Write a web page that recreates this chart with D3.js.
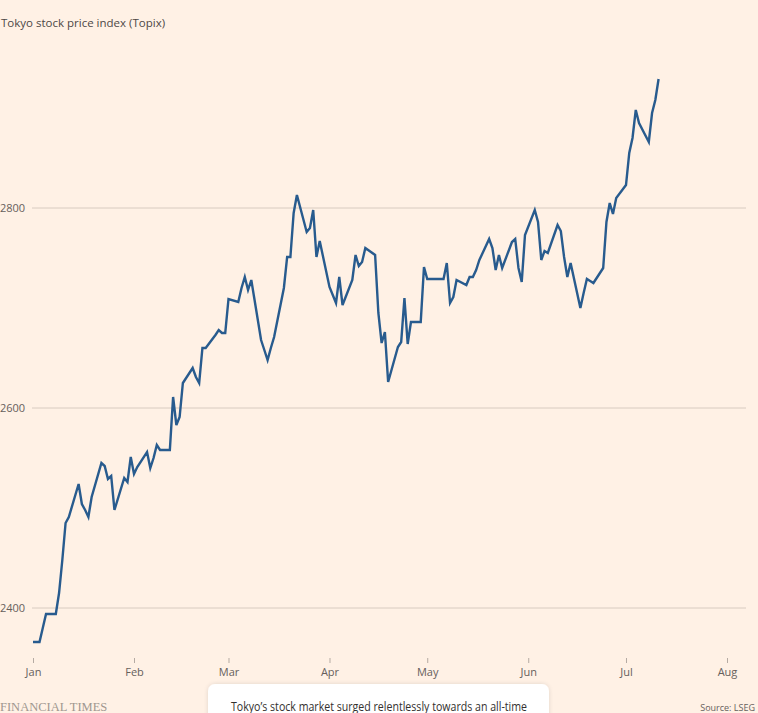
<!DOCTYPE html>
<html>
<head>
<meta charset="utf-8">
<script src="https://cdn.jsdelivr.net/npm/d3@7"></script>
<style>
  html, body { margin: 0; padding: 0; background: #fff1e5; overflow: hidden; }
  svg { display: block; }
</style>
</head>
<body>
<svg id="chart" width="758" height="713"></svg>
<script>
// ---- Data (Topix daily close, 2024) ----
const dates = [
  "2024-01-01","2024-01-02","2024-01-03","2024-01-04","2024-01-05","2024-01-08","2024-01-09","2024-01-10","2024-01-11","2024-01-12",
  "2024-01-15","2024-01-16","2024-01-17","2024-01-18","2024-01-19","2024-01-22","2024-01-23","2024-01-24","2024-01-25","2024-01-26",
  "2024-01-29","2024-01-30","2024-01-31","2024-02-01","2024-02-02","2024-02-05","2024-02-06","2024-02-07","2024-02-08","2024-02-09",
  "2024-02-12","2024-02-13","2024-02-14","2024-02-15","2024-02-16","2024-02-19","2024-02-20","2024-02-21","2024-02-22","2024-02-23",
  "2024-02-26","2024-02-27","2024-02-28","2024-02-29","2024-03-01","2024-03-04","2024-03-05","2024-03-06","2024-03-07","2024-03-08",
  "2024-03-11","2024-03-12","2024-03-13","2024-03-14","2024-03-15","2024-03-18","2024-03-19","2024-03-20","2024-03-21","2024-03-22",
  "2024-03-25","2024-03-26","2024-03-27","2024-03-28","2024-03-29","2024-04-01","2024-04-02","2024-04-03","2024-04-04","2024-04-05",
  "2024-04-08","2024-04-09","2024-04-10","2024-04-11","2024-04-12","2024-04-15","2024-04-16","2024-04-17","2024-04-18","2024-04-19",
  "2024-04-22","2024-04-23","2024-04-24","2024-04-25","2024-04-26","2024-04-29","2024-04-30","2024-05-01","2024-05-02","2024-05-03",
  "2024-05-06","2024-05-07","2024-05-08","2024-05-09","2024-05-10","2024-05-13","2024-05-14","2024-05-15","2024-05-16","2024-05-17",
  "2024-05-20","2024-05-21","2024-05-22","2024-05-23","2024-05-24","2024-05-27","2024-05-28","2024-05-29","2024-05-30","2024-05-31",
  "2024-06-03","2024-06-04","2024-06-05","2024-06-06","2024-06-07","2024-06-10","2024-06-11","2024-06-12","2024-06-13","2024-06-14",
  "2024-06-17","2024-06-18","2024-06-19","2024-06-20","2024-06-21","2024-06-24","2024-06-25","2024-06-26","2024-06-27","2024-06-28",
  "2024-07-01","2024-07-02","2024-07-03","2024-07-04","2024-07-05","2024-07-08","2024-07-09","2024-07-10","2024-07-11"
];
const topix = [
  2366,2366,2366,2380,2394,2394,2415,2448,2485,2491,
  2524,2504,2498,2491,2511,2545,2542,2529,2532,2498,
  2530,2526,2551,2534,2541,2556,2540,2550,2563,2558,
  2558,2611,2583,2591,2625,2640,2631,2625,2660,2660,
  2673,2678,2675,2675,2709,2706,2720,2731,2718,2728,
  2668,2658,2648,2660,2671,2720,2751,2751,2795,2813,
  2776,2780,2798,2751,2767,2721,2713,2705,2731,2703,
  2728,2753,2742,2746,2760,2753,2695,2665,2676,2626,
  2661,2666,2710,2664,2686,2686,2741,2729,2729,2729,
  2729,2745,2705,2711,2728,2723,2731,2731,2738,2748,
  2769,2760,2738,2753,2740,2766,2769,2740,2726,2773,
  2798,2786,2748,2757,2755,2783,2777,2751,2731,2745,
  2700,2715,2729,2727,2725,2740,2786,2805,2794,2810,
  2823,2855,2870,2898,2885,2866,2895,2908,2929
];
const yTicks = [2400, 2600, 2800];
const monthLabels = ["Jan","Feb","Mar","Apr","May","Jun","Jul","Aug"];
const title = "Tokyo stock price index (Topix)";
const source = "Source: LSEG";
const brand = "FINANCIAL TIMES";
const cardText = "Tokyo\u2019s stock market surged relentlessly towards an all-time";

// ---- Build ----
const parse = d3.timeParse("%Y-%m-%d");
const data = dates.map((d, i) => ({ date: parse(d), value: topix[i] }));

const svg = d3.select("#chart");
const W = 758, H = 713;

const x = d3.scaleTime()
  .domain([new Date(2024, 0, 1), new Date(2024, 7, 1)])
  .range([33, 727]);
const y = d3.scaleLinear()
  .domain([2400, 2800])
  .range([608, 208]);

const labelFont = "Open Sans, Lato, sans-serif";
const textCol = "#66605c";

// title
svg.append("text")
  .attr("x", 1).attr("y", 27)
  .attr("font-family", labelFont).attr("font-size", 11.5)
  .attr("fill", "#4d4845")
  .text(title);

// gridlines + y labels
const grid = svg.append("g");
grid.selectAll("line").data(yTicks).join("line")
  .attr("x1", 32).attr("x2", 746)
  .attr("y1", d => y(d)).attr("y2", d => y(d))
  .attr("stroke", "#d8cbc0").attr("stroke-width", 1);
grid.selectAll("text").data(yTicks).join("text")
  .attr("x", 0).attr("y", d => y(d)).attr("dy", "0.35em")
  .attr("font-family", labelFont).attr("font-size", 11)
  .attr("fill", textCol)
  .text(d => d);

// x axis
const xAxis = d3.axisBottom(x)
  .tickValues(monthLabels.map((m, i) => new Date(2024, i, 1)))
  .tickFormat((d, i) => monthLabels[i])
  .tickSize(5).tickPadding(5);
const gx = svg.append("g").attr("transform", "translate(0,658)").call(xAxis);
gx.select(".domain").remove();
gx.selectAll(".tick line").attr("stroke", "#b5aba3");
gx.selectAll(".tick text")
  .attr("font-family", labelFont).attr("font-size", 11)
  .attr("fill", textCol);

// line
const line = d3.line().x(d => x(d.date)).y(d => y(d.value));
svg.append("path").datum(data)
  .attr("d", line)
  .attr("fill", "none")
  .attr("stroke", "#285b8e")
  .attr("stroke-width", 2.4)
  .attr("stroke-linejoin", "miter")
  .attr("stroke-linecap", "butt");

// footer brand
svg.append("text")
  .attr("x", 0).attr("y", 711)
  .attr("font-family", "Liberation Serif, DejaVu Serif, serif")
  .attr("font-size", 12.5)
  .attr("fill", "#a0978f")
  .text(brand);

svg.append("text")
  .attr("x", 755).attr("y", 711)
  .attr("text-anchor", "end")
  .attr("font-family", labelFont).attr("font-size", 9)
  .attr("fill", textCol)
  .text(source);

// card overlay
const defs = svg.append("defs");
const f = defs.append("filter").attr("id", "shadow").attr("x", "-10%").attr("y", "-50%").attr("width", "120%").attr("height", "200%");
f.append("feDropShadow").attr("dx", 0).attr("dy", 0).attr("stdDeviation", 2).attr("flood-color", "#000").attr("flood-opacity", 0.12);
svg.append("rect")
  .attr("x", 208).attr("y", 684).attr("width", 341).attr("height", 60)
  .attr("rx", 7).attr("ry", 7)
  .attr("fill", "#ffffff")
  .attr("filter", "url(#shadow)");
svg.append("text")
  .attr("x", 231).attr("y", 711)
  .attr("font-family", labelFont).attr("font-size", 12.5)
  .attr("fill", "#33302e")
  .attr("textLength", 296).attr("lengthAdjust", "spacingAndGlyphs")
  .text(cardText);
</script>
</body>
</html>
